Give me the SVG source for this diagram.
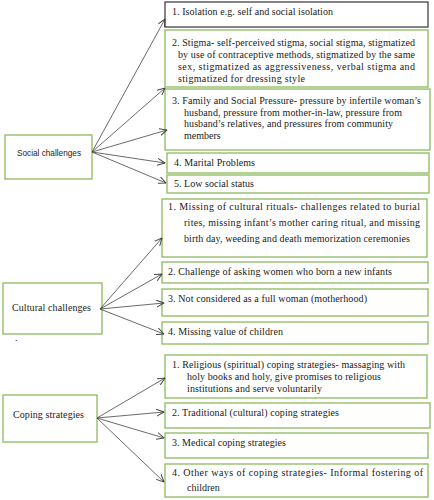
<svg xmlns="http://www.w3.org/2000/svg" width="434" height="500" viewBox="0 0 434 500">
<defs>
<style>
.box{fill:#fff;stroke:#8dbb5c;stroke-width:1.3}
.bbox{fill:#fff;stroke:#333;stroke-width:1.2}
.t{font-family:"Liberation Serif","Times New Roman",serif;font-size:10px;fill:#1a1a1a}
.s{font-family:"Liberation Sans",Arial,sans-serif;font-size:8.2px;fill:#1a1a1a}
.c line{stroke:#444;stroke-width:0.8;marker-end:url(#ah)}
</style>
<marker id="ah" viewBox="0 0 8 8" refX="7.5" refY="4" markerWidth="8" markerHeight="8" markerUnits="userSpaceOnUse" orient="auto">
<path d="M0,0.5 L7.5,4 L0,7.5" fill="none" stroke="#444" stroke-width="1"/>
</marker>
</defs>
<rect width="434" height="500" fill="#fff"/>

<g id="social">
<rect class="box" x="5" y="135" width="87" height="44"/>
<text class="s" x="17" y="156" textLength="64" lengthAdjust="spacing">Social challenges</text>
</g>
<g id="s1">
<rect class="bbox" x="165" y="2" width="263" height="25"/>
<text class="t" x="172" y="15" textLength="161" lengthAdjust="spacing">1. Isolation e.g. self and social isolation</text>
</g>
<g id="s2">
<rect class="box" x="165" y="30" width="263" height="57"/>
<text class="t" x="172" y="46" textLength="243" lengthAdjust="spacing">2. Stigma- self-perceived stigma, social stigma, stigmatized</text>
<text class="t" x="178" y="58" textLength="237" lengthAdjust="spacing">by use of contraceptive methods, stigmatized by the same</text>
<text class="t" x="178" y="70" textLength="237" lengthAdjust="spacing">sex, stigmatized as aggressiveness, verbal stigma and</text>
<text class="t" x="178" y="82" textLength="127" lengthAdjust="spacing">stigmatized for dressing style</text>
</g>
<g id="s3">
<rect class="box" x="165" y="89" width="265" height="61"/>
<text class="t" x="172" y="104" textLength="249" lengthAdjust="spacing">3. Family and Social Pressure- pressure by infertile woman’s</text>
<text class="t" x="184" y="116" textLength="218" lengthAdjust="spacing">husband, pressure from mother-in-law, pressure from</text>
<text class="t" x="184" y="127" textLength="209" lengthAdjust="spacing">husband’s relatives, and pressures from community</text>
<text class="t" x="184" y="139">members</text>
</g>
<g id="s4">
<rect class="box" x="167" y="153" width="262" height="20"/>
<text class="t" x="174" y="166" textLength="81" lengthAdjust="spacing">4. Marital Problems</text>
</g>
<g id="s5">
<rect class="box" x="167" y="175" width="262" height="18"/>
<text class="t" x="174" y="187" textLength="80" lengthAdjust="spacing">5. Low social status</text>
</g>

<g id="cultural">
<rect class="box" x="3" y="283" width="99" height="51"/>
<text class="t" x="12" y="311" textLength="79" lengthAdjust="spacing">Cultural challenges</text>
</g>
<text class="t" x="15" y="341">.</text>
<g id="c1">
<rect class="box" x="162" y="199" width="265" height="58"/>
<text class="t" x="168" y="210" textLength="252" lengthAdjust="spacing">1. Missing of cultural rituals- challenges related to burial</text>
<text class="t" x="184" y="226" textLength="236" lengthAdjust="spacing">rites, missing infant’s mother caring ritual, and missing</text>
<text class="t" x="184" y="242" textLength="226" lengthAdjust="spacing">birth day, weeding and death memorization ceremonies</text>
</g>
<g id="c2">
<rect class="box" x="162" y="262" width="266" height="21"/>
<text class="t" x="168" y="275" textLength="224" lengthAdjust="spacing">2. Challenge of asking women who born a new infants</text>
</g>
<g id="c3">
<rect class="box" x="162" y="289" width="266" height="27"/>
<text class="t" x="168" y="302" textLength="199" lengthAdjust="spacing">3. Not considered as a full woman (motherhood)</text>
</g>
<g id="c4">
<rect class="box" x="162" y="322" width="266" height="22"/>
<text class="t" x="168" y="335" textLength="115" lengthAdjust="spacing">4. Missing value of children</text>
</g>

<g id="coping">
<rect class="box" x="3" y="395" width="94" height="47"/>
<text class="t" x="13" y="418" textLength="71" lengthAdjust="spacing">Coping strategies</text>
</g>
<g id="p1">
<rect class="box" x="165" y="355" width="262" height="43"/>
<text class="t" x="172" y="368" textLength="233" lengthAdjust="spacing">1. Religious (spiritual) coping strategies- massaging with</text>
<text class="t" x="187" y="380" textLength="194" lengthAdjust="spacing">holy books and holy, give promises to religious</text>
<text class="t" x="187" y="392" textLength="135" lengthAdjust="spacing">institutions and serve voluntarily</text>
</g>
<g id="p2">
<rect class="box" x="165" y="403" width="265" height="25"/>
<text class="t" x="172" y="416" textLength="167" lengthAdjust="spacing">2. Traditional (cultural) coping strategies</text>
</g>
<g id="p3">
<rect class="box" x="165" y="433" width="263" height="25"/>
<text class="t" x="172" y="446" textLength="114" lengthAdjust="spacing">3. Medical coping strategies</text>
</g>
<g id="p4">
<rect class="box" x="165" y="464" width="263" height="33"/>
<text class="t" x="172" y="476" textLength="251" lengthAdjust="spacing">4. Other ways of coping strategies- Informal fostering of</text>
<text class="t" x="187" y="491">children</text>
</g>

<g id="connectors" class="c">
<line x1="92" y1="152" x2="165" y2="19"/>
<line x1="92" y1="152" x2="165" y2="88"/>
<line x1="92" y1="152" x2="167" y2="130"/>
<line x1="92" y1="152" x2="165" y2="163"/>
<line x1="92" y1="152" x2="166" y2="183"/>
<line x1="100" y1="309" x2="162" y2="238"/>
<line x1="100" y1="309" x2="162" y2="274"/>
<line x1="100" y1="309" x2="164" y2="303"/>
<line x1="100" y1="309" x2="164" y2="334"/>
<line x1="97" y1="418" x2="165" y2="378"/>
<line x1="97" y1="418" x2="164" y2="412"/>
<line x1="97" y1="418" x2="164" y2="438"/>
<line x1="97" y1="418" x2="164" y2="482"/>
</g>
</svg>
